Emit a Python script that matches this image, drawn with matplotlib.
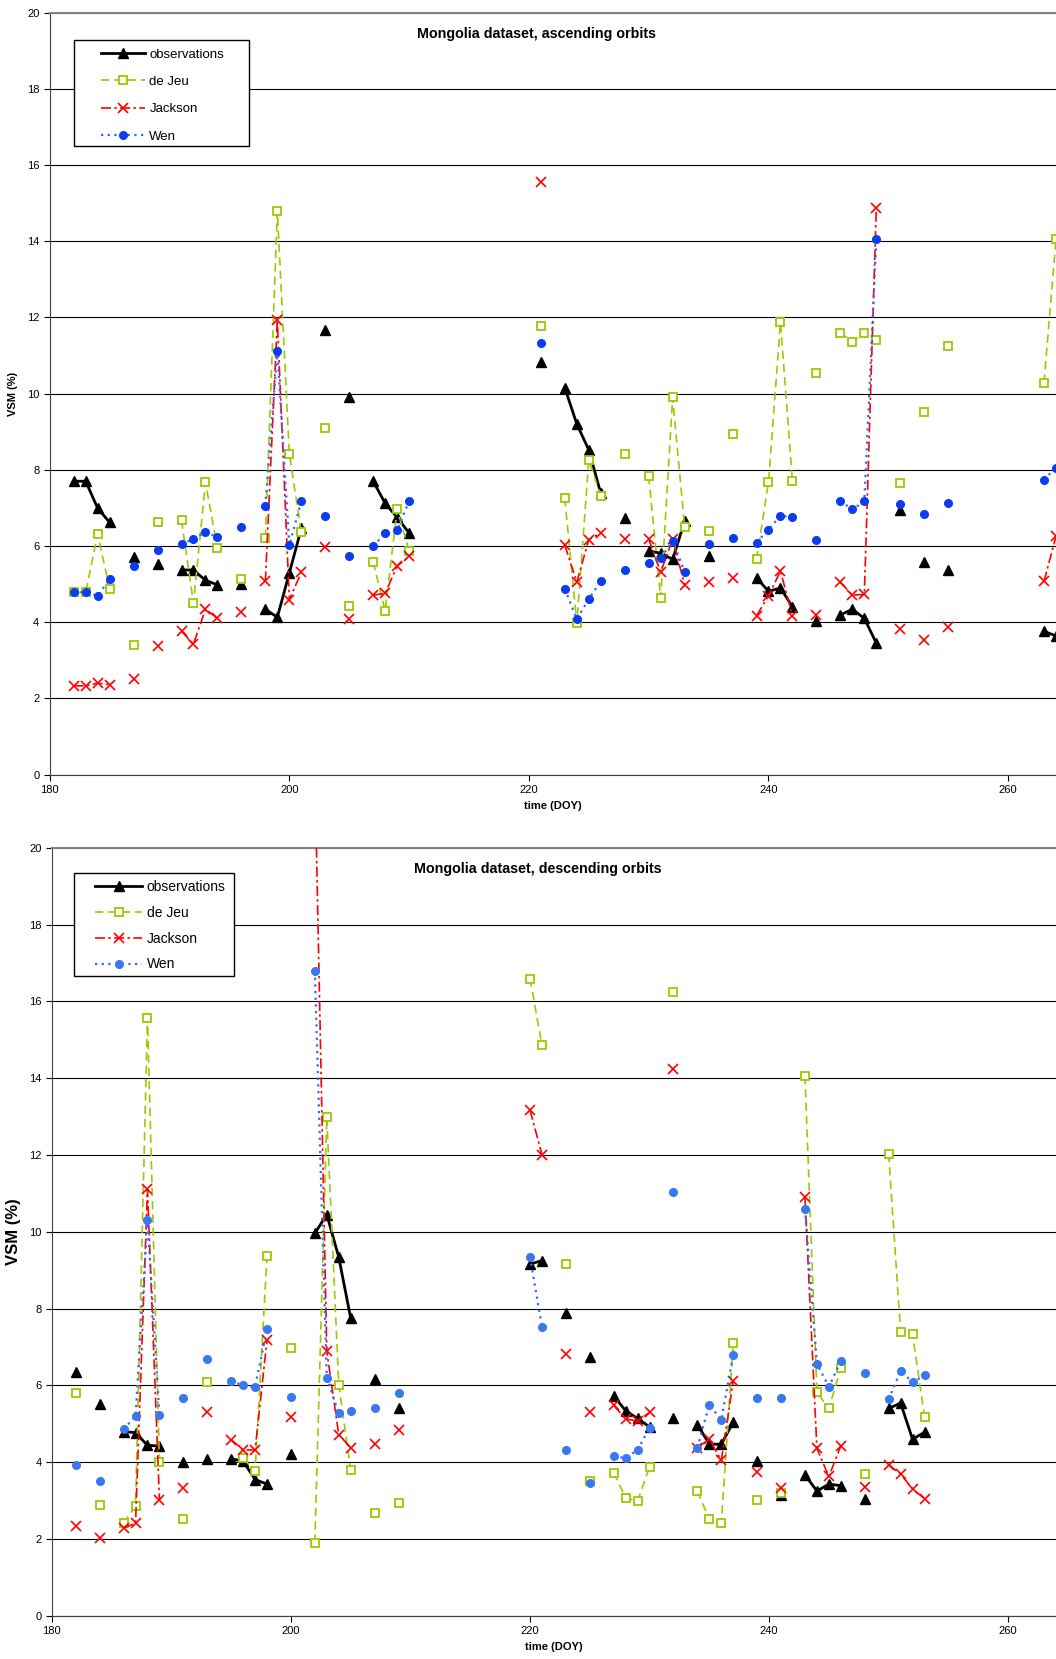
import numpy as np
import pandas as pd
import matplotlib
matplotlib.use("Agg")
import matplotlib.pyplot as plt
from matplotlib.patches import Rectangle

plt.rcParams['font.family'] = ['Liberation Sans', 'DejaVu Sans']

# ---- ascending orbits (top panel) ----
asc_doy = [182, 183, 184, 185, 187, 189, 191, 192, 193, 194, 196, 198, 199, 200, 201, 203,
           205, 207, 208, 209, 210, 221, 223, 224, 225, 226, 228, 230, 231, 232, 233, 235,
           237, 239, 240, 241, 242, 244, 246, 247, 248, 249, 251, 253, 255, 263, 264]
asc_obs = [7.70, 7.70, 6.99, 6.62, 5.70, 5.53, 5.37, 5.37, 5.10, 4.98, 5.00, 4.34, 4.13, 5.29, 6.46, 11.67,
           9.92, 7.70, 7.12, 6.75, 6.34, 10.83, 10.15, 9.20, 8.52, 7.38, 6.73, 5.87, 5.81, 5.65, 6.65, 5.75,
           np.nan, 5.17, 4.81, 4.90, 4.40, 4.03, 4.19, 4.34, 4.10, 3.45, 6.94, 5.58, 5.37, 3.76, 3.64]
asc_dejeu = [4.78, 4.78, 6.31, 4.88, 3.40, 6.63, 6.67, 4.50, 7.67, 5.95, 5.13, 6.21, 14.79, 8.42, 6.36, 9.10,
             4.42, 5.58, 4.30, 6.96, 5.87, 11.77, 7.25, 3.97, 8.26, 7.31, 8.42, 7.83, 4.64, 9.90, 6.50, 6.39,
             8.95, 5.65, 7.67, 11.87, 7.70, 10.53, 11.60, 11.36, 11.58, 11.41, 7.65, 9.51, 11.24, 10.29, 14.05]
asc_jackson = [2.33, 2.33, 2.40, 2.36, 2.50, 3.38, 3.76, 3.43, 4.34, 4.10, 4.27, 5.07, 11.92, 4.59, 5.31, 5.97,
               4.08, 4.71, 4.76, 5.47, 5.73, 15.56, 6.02, 5.05, 6.17, 6.34, 6.18, 6.18, 5.32, 6.18, 4.98, 5.05,
               5.17, 4.17, 4.69, 5.34, 4.17, 4.20, 5.05, 4.71, 4.73, 14.87, 3.83, 3.52, 3.88, 5.07, 6.26]
asc_wen = [4.79, 4.79, 4.69, 5.13, 5.47, 5.89, 6.04, 6.19, 6.36, 6.24, 6.49, 7.06, 11.12, 6.02, 7.17, 6.80,
           5.73, 6.00, 6.33, 6.41, 7.18, 11.33, 4.87, 4.08, 4.61, 5.08, 5.36, 5.56, 5.68, 6.14, 5.32, 6.05,
           6.21, 6.09, 6.43, 6.80, 6.75, 6.15, 7.18, 6.96, 7.17, 14.05, 7.11, 6.84, 7.12, 7.74, 8.06]

# ---- descending orbits (bottom panel) ----
desc_doy = [182, 184, 186, 187, 188, 189, 191, 193, 195, 196, 197, 198, 200, 202, 203, 204,
            205, 207, 209, 220, 221, 223, 225, 227, 228, 229, 230, 232, 234, 235, 236, 237,
            239, 241, 243, 244, 245, 246, 248, 250, 251, 252, 253]
desc_obs = [6.36, 5.52, 4.80, 4.77, 4.44, 4.42, 4.00, 4.09, 4.09, 4.03, 3.55, 3.43, 4.21, 9.96, 10.45, 9.34,
            7.75, 6.18, 5.40, 9.16, 9.25, 7.89, 6.74, 5.73, 5.34, 5.14, 4.92, 5.14, 4.98, 4.47, 4.47, 5.04,
            4.03, 3.15, 3.67, 3.25, 3.43, 3.39, 3.05, 5.40, 5.54, 4.60, 4.78]
desc_dejeu = [5.79, 2.89, 2.41, 2.86, 15.58, 4.00, 2.53, 6.08, np.nan, 4.11, 3.76, 9.37, 6.98, 1.90, 12.99, 6.02,
              3.81, 2.69, 2.93, 16.59, 14.86, 9.16, 3.50, 3.73, 3.07, 2.99, 3.88, 16.24, 3.25, 2.51, 2.41, 7.10,
              3.01, 3.20, 14.06, 5.82, 5.40, 6.45, 3.70, 12.03, 7.40, 7.34, 5.19]
desc_jackson = [2.33, 2.02, 2.29, 2.41, 11.11, 3.01, 3.33, 5.30, 4.59, 4.32, 4.32, 7.19, 5.19, 22.0, 6.89, 4.72,
                4.38, 4.48, 4.84, 13.17, 12.01, 6.83, 5.30, 5.48, 5.13, 5.07, 5.30, 14.24, 4.38, 4.60, 4.05, 6.12,
                3.75, 3.33, 10.90, 4.36, 3.63, 4.42, 3.35, 3.94, 3.69, 3.31, 3.05]
desc_wen = [3.93, 3.52, 4.86, 5.20, 10.32, 5.22, 5.66, 6.68, 6.12, 6.00, 5.96, 7.46, 5.70, 16.79, 6.20, 5.28,
            5.34, 5.42, 5.79, 9.34, 7.53, 4.32, 3.45, 4.15, 4.11, 4.32, 4.90, 11.04, 4.38, 5.50, 5.10, 6.80,
            5.68, 5.66, 10.60, 6.56, 5.97, 6.63, 6.32, 5.64, 6.38, 6.08, 6.26]

days = np.arange(180, 266)


def daily(doy, vals):
    # reindex on every day so the lines break where days are missing
    return pd.Series(vals, index=doy).reindex(days)


def panel(ax, doy, obs, dejeu, jackson, wen, title, wen_color, fs_leg, fs_title, fs_ylab,
          box, leg_anchor, leg_spacing):
    ax.plot(days, daily(doy, obs), color='black', lw=2, marker='^', ms=7,
            label='observations', zorder=3)
    ax.plot(days, daily(doy, dejeu), color='#99CC00', lw=1.2, ls=(0, (5, 3)), marker='s',
            ms=6, mfc='white', mec='#99CC00', mew=1.3, label='de Jeu', zorder=4)
    ax.plot(days, daily(doy, jackson), color='#FF0000', lw=1.2, ls=(0, (6, 2, 1.5, 2)),
            marker='x', ms=7, mew=1.2, label='Jackson', zorder=5)
    ax.plot(days, daily(doy, wen), color='#3366FF', lw=1.6, ls=(0, (1, 2)), marker='o',
            ms=5.5, mfc=wen_color, mec=wen_color, label='Wen', zorder=6)

    ax.set_xlim(180, 264)
    ax.set_ylim(0, 20)
    ax.set_xticks(range(180, 261, 20))
    ax.set_yticks(range(0, 21, 2))
    ax.yaxis.grid(True, color='black', lw=0.8)
    ax.set_axisbelow(True)
    ax.spines['right'].set_visible(False)
    ax.spines['top'].set_color('#808080')
    ax.spines['top'].set_linewidth(1.5)
    ax.spines['left'].set_color('#404040')
    ax.spines['bottom'].set_color('#404040')
    ax.tick_params(labelsize=8, length=4, direction='out', width=0.8)
    ax.set_xlabel('time (DOY)', fontsize=8, fontweight='bold', labelpad=4)
    ax.set_ylabel('VSM (%)', fontsize=fs_ylab, fontweight='bold', labelpad=6)
    ax.text(0.484, 0.972, title, transform=ax.transAxes, ha='center', va='center',
            fontsize=fs_title, fontweight='bold')

    # legend frame drawn by hand (wider padding on the left than matplotlib allows)
    x0, y0, x1, y1 = box
    ax.add_patch(Rectangle((x0, y0), x1 - x0, y1 - y0, transform=ax.transAxes,
                           facecolor='white', edgecolor='black', lw=1, zorder=9))
    leg = ax.legend(loc='upper left', bbox_to_anchor=leg_anchor, fontsize=fs_leg,
                    frameon=False, handlelength=3.4, handletextpad=0.3,
                    labelspacing=leg_spacing, borderpad=0, borderaxespad=0, numpoints=1)
    leg.set_zorder(10)


fig = plt.figure(figsize=(10.56, 16.59), dpi=100)
ax1 = fig.add_axes([0.0471, 0.5331, 0.9529, 0.4593])
ax2 = fig.add_axes([0.0491, 0.0260, 0.9509, 0.4630])

panel(ax1, asc_doy, asc_obs, asc_dejeu, asc_jackson, asc_wen,
      'Mongolia dataset, ascending orbits', '#0A3CF0', 9.5, 10.3, 8,
      (0.0242, 0.825, 0.1978, 0.964), (0.0505, 0.953), 1.15)
panel(ax2, desc_doy, desc_obs, desc_dejeu, desc_jackson, desc_wen,
      'Mongolia dataset, descending orbits', '#3A78F0', 10, 10.3, 12,
      (0.0221, 0.833, 0.1812, 0.967), (0.0431, 0.958), 0.85)

fig.savefig('out.png', dpi=100)
